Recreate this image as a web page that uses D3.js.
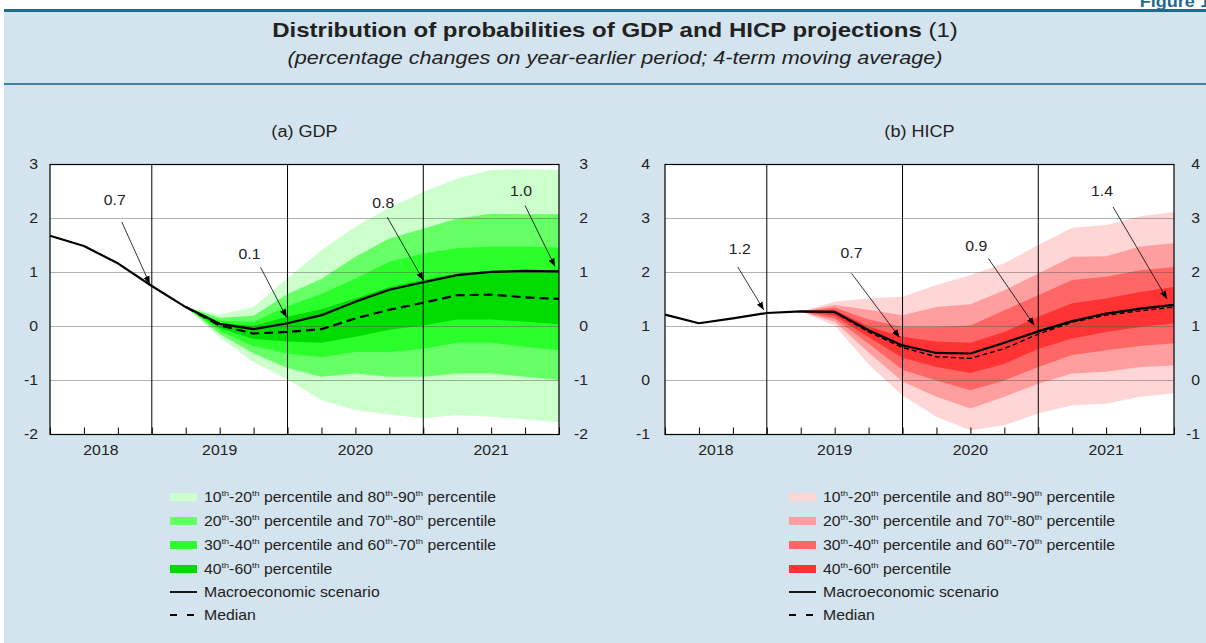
<!DOCTYPE html>
<html>
<head>
<meta charset="utf-8">
<script src="https://cdn.jsdelivr.net/npm/d3@7"></script>
<style>
body { margin: 0; background: #fff; }
svg { display: block; font-family: "Liberation Sans", Arial, sans-serif; }
</style>
</head>
<body>
<div id="chart-area"></div>
<script>
// quarters on the x axis, first to last
var quarters = ["2018Q1","2018Q2","2018Q3","2018Q4","2019Q1","2019Q2","2019Q3","2019Q4",
                "2020Q1","2020Q2","2020Q3","2020Q4","2021Q1","2021Q2","2021Q3","2021Q4"]
var years = ["2018","2019","2020","2021"]

// GDP
var gdpScenario = [1.68, 1.49, 1.17, 0.75, 0.36, 0.05, -0.05, 0.06, 0.21, 0.46, 0.68, 0.82, 0.95, 1.01, 1.03, 1.02]
var gdpMedian = [null, null, null, null, 0.36, 0.02, -0.13, -0.10, -0.05, 0.15, 0.31, 0.44, 0.58, 0.59, 0.54, 0.51]
var gdpP10 = [null, null, null, null, 0.36, -0.20, -0.66, -0.98, -1.36, -1.55, -1.63, -1.70, -1.64, -1.67, -1.72, -1.77]
var gdpP20 = [null, null, null, null, 0.36, -0.14, -0.50, -0.77, -0.93, -0.87, -0.93, -0.93, -0.87, -0.87, -0.93, -0.99]
var gdpP30 = [null, null, null, null, 0.36, -0.08, -0.36, -0.50, -0.57, -0.47, -0.47, -0.41, -0.30, -0.30, -0.38, -0.44]
var gdpP40 = [null, null, null, null, 0.36, -0.03, -0.23, -0.28, -0.30, -0.19, -0.06, 0.02, 0.13, 0.13, 0.09, 0.04]
var gdpP60 = [null, null, null, null, 0.36, 0.07, 0.01, 0.18, 0.32, 0.52, 0.73, 0.86, 0.98, 1.03, 1.04, 1.05]
var gdpP70 = [null, null, null, null, 0.36, 0.11, 0.09, 0.38, 0.60, 0.89, 1.20, 1.35, 1.45, 1.48, 1.48, 1.46]
var gdpP80 = [null, null, null, null, 0.36, 0.16, 0.20, 0.60, 0.88, 1.29, 1.63, 1.81, 2.00, 2.09, 2.08, 2.08]
var gdpP90 = [null, null, null, null, 0.36, 0.22, 0.36, 0.90, 1.41, 1.85, 2.20, 2.49, 2.74, 2.90, 2.91, 2.90]

// HICP
var hicpScenario = [1.22, 1.06, 1.15, 1.25, 1.28, 1.27, 0.93, 0.65, 0.51, 0.50, 0.70, 0.91, 1.10, 1.24, 1.33, 1.40]
var hicpMedian = [null, null, null, null, 1.28, 1.26, 0.90, 0.61, 0.44, 0.41, 0.59, 0.86, 1.08, 1.21, 1.29, 1.36]
var hicpP10 = [null, null, null, null, 1.28, 1.02, 0.30, -0.28, -0.67, -0.92, -0.83, -0.61, -0.46, -0.43, -0.30, -0.24]
var hicpP20 = [null, null, null, null, 1.28, 1.09, 0.52, -0.02, -0.30, -0.52, -0.30, -0.06, 0.13, 0.16, 0.25, 0.28]
var hicpP30 = [null, null, null, null, 1.28, 1.15, 0.68, 0.20, 0.00, -0.18, 0.00, 0.25, 0.47, 0.56, 0.64, 0.69]
var hicpP40 = [null, null, null, null, 1.28, 1.20, 0.80, 0.42, 0.25, 0.14, 0.31, 0.59, 0.78, 0.90, 0.99, 1.06]
var hicpP60 = [null, null, null, null, 1.28, 1.31, 1.00, 0.81, 0.72, 0.70, 0.90, 1.18, 1.43, 1.52, 1.64, 1.73]
var hicpP70 = [null, null, null, null, 1.28, 1.35, 1.13, 0.99, 0.99, 1.02, 1.30, 1.58, 1.86, 1.92, 2.04, 2.10]
var hicpP80 = [null, null, null, null, 1.28, 1.40, 1.31, 1.21, 1.36, 1.41, 1.67, 1.98, 2.29, 2.30, 2.48, 2.54]
var hicpP90 = [null, null, null, null, 1.28, 1.46, 1.52, 1.55, 1.77, 1.95, 2.17, 2.51, 2.83, 2.88, 3.04, 3.12]

// labelled points (quarter index + text)
var gdpNotes = [{i: 3, label: "0.7"}, {i: 7, label: "0.1"}, {i: 11, label: "0.8"}, {i: 15, label: "1.0"}]
var hicpNotes = [{i: 3, label: "1.2"}, {i: 7, label: "0.7"}, {i: 11, label: "0.9"}, {i: 15, label: "1.4"}]

var bandLabels = [
  [["10", "th"], ["-20", "th"], [" percentile and 80", "th"], ["-90", "th"], [" percentile", ""]],
  [["20", "th"], ["-30", "th"], [" percentile and 70", "th"], ["-80", "th"], [" percentile", ""]],
  [["30", "th"], ["-40", "th"], [" percentile and 60", "th"], ["-70", "th"], [" percentile", ""]],
  [["40", "th"], ["-60", "th"], [" percentile", ""]]
]

var width = 1206
var height = 643
var bg = "#d4e4ee"
var teal = "#1f6a8e"

var svg = d3.select("#chart-area").append("svg")
.attr("width", width)
.attr("height", height)

// background + header
svg.append("rect")
.attr("x", 4).attr("y", 9)
.attr("width", width - 4).attr("height", height - 9)
.attr("fill", bg)

svg.append("text")
.attr("x", 1210).attr("y", 7)
.attr("text-anchor", "end")
.attr("font-size", "16px")
.attr("font-weight", "bold")
.attr("fill", teal)
.text("Figure 1")

svg.append("line")
.attr("x1", 4).attr("x2", width)
.attr("y1", 10.5).attr("y2", 10.5)
.attr("stroke", teal).attr("stroke-width", 3)

svg.append("line")
.attr("x1", 4).attr("x2", width)
.attr("y1", 84).attr("y2", 84)
.attr("stroke", "#3f7fa0").attr("stroke-width", 2)

var title = svg.append("text")
.attr("class", "wide")
.attr("x", 615).attr("y", 37)
.attr("text-anchor", "middle")
.attr("font-size", "20px")
.attr("fill", "#222")
title.append("tspan").attr("font-weight", "bold").text("Distribution of probabilities of GDP and HICP projections")
title.append("tspan").text(" (1)")

svg.append("text")
.attr("class", "wide")
.attr("x", 615).attr("y", 64)
.attr("text-anchor", "middle")
.attr("font-size", "18px")
.attr("font-style", "italic")
.attr("fill", "#222")
.text("(percentage changes on year-earlier period; 4-term moving average)")

// arrow head
svg.append("defs").append("marker")
.attr("id", "arrow")
.attr("viewBox", "0 0 10 10")
.attr("refX", 10).attr("refY", 5)
.attr("markerWidth", 8).attr("markerHeight", 8)
.attr("markerUnits", "userSpaceOnUse")
.attr("orient", "auto")
.append("path")
.attr("d", "M0,1 L10,5 L0,9 Z")
.attr("fill", "#000")

var plotTop = 164.5
var plotBottom = 434.5
var plotW = 509

const drawPanel = (p) => {
  var x = d3.scalePoint().domain(quarters).range([p.left, p.left + plotW])
  var y = d3.scaleLinear().domain(p.yDomain).range([plotBottom, plotTop])

  var g = svg.append("g")

  g.append("text")
  .attr("x", p.left + plotW / 2).attr("y", 137)
  .attr("text-anchor", "middle")
  .attr("font-size", "16px")
  .attr("fill", "#222")
  .text(p.title)

  g.append("rect")
  .attr("x", p.left).attr("y", plotTop)
  .attr("width", plotW).attr("height", plotBottom - plotTop)
  .attr("fill", "#fff")

  // fan bands, outer first
  var pairs = [[p.p10, p.p90], [p.p20, p.p80], [p.p30, p.p70], [p.p40, p.p60]]
  pairs.forEach((pr, k) => {
    var rows = quarters.map((q, i) => ({q: q, lo: pr[0][i], hi: pr[1][i]}))
    var area = d3.area()
    .defined(d => d.lo != null)
    .x(d => x(d.q))
    .y0(d => y(d.lo))
    .y1(d => y(d.hi))
    g.append("path")
    .datum(rows)
    .attr("d", area)
    .attr("fill", p.colors[k])
  })

  // grid
  var yTicks = y.ticks(5)
  g.selectAll(".grid")
  .data(yTicks.slice(1, -1))
  .enter().append("line")
  .attr("x1", p.left).attr("x2", p.left + plotW)
  .attr("y1", d => y(d)).attr("y2", d => y(d))
  .attr("stroke", "#555")
  .attr("stroke-opacity", 0.45)
  .attr("stroke-width", 1)

  // year separators at Q4
  g.selectAll(".sep")
  .data(years.slice(0, -1))
  .enter().append("line")
  .attr("x1", d => x(d + "Q4")).attr("x2", d => x(d + "Q4"))
  .attr("y1", plotTop).attr("y2", plotBottom)
  .attr("stroke", "#000").attr("stroke-width", 1)

  // quarter ticks
  var xAxis = d3.axisBottom(x).tickSize(-7).tickFormat("")
  var xg = g.append("g")
  .attr("transform", "translate(0," + plotBottom + ")")
  .call(xAxis)
  xg.select(".domain").remove()
  xg.selectAll("line").attr("stroke", "#000")

  // year labels centred in each year span
  g.selectAll(".year")
  .data(years)
  .enter().append("text")
  .attr("x", (d, i) => {
    var a = i == 0 ? x(quarters[0]) : x(years[i - 1] + "Q4")
    return (a + x(d + "Q4")) / 2
  })
  .attr("y", 455)
  .attr("text-anchor", "middle")
  .attr("font-size", "14px")
  .attr("fill", "#222")
  .text(d => d)

  // y axes both sides
  var fmt = d => String(d)
  var yl = g.append("g")
  .attr("transform", "translate(" + (p.left - p.leftPad) + ",0)")
  .call(d3.axisLeft(y).ticks(5).tickSize(0).tickPadding(0).tickFormat(fmt))
  var yr = g.append("g")
  .attr("transform", "translate(" + (p.left + plotW + p.rightPad) + ",0)")
  .call(d3.axisRight(y).ticks(5).tickSize(0).tickPadding(0).tickFormat(fmt))
  ;[yl, yr].forEach(a => {
    a.select(".domain").remove()
    a.selectAll("text")
    .attr("text-anchor", "end")
    .attr("x", 0)
    .attr("font-size", "14px")
    .attr("font-family", "Liberation Sans, Arial, sans-serif")
    .attr("fill", "#222")
  })

  // scenario + median
  var line = d3.line()
  .defined(d => d.v != null)
  .x(d => x(d.q))
  .y(d => y(d.v))

  g.append("path")
  .datum(quarters.map((q, i) => ({q: q, v: p.median[i]})))
  .attr("d", line)
  .attr("fill", "none")
  .attr("stroke", "#000")
  .attr("stroke-width", p.medianWidth)
  .attr("stroke-dasharray", p.dash)

  g.append("path")
  .datum(quarters.map((q, i) => ({q: q, v: p.scenario[i]})))
  .attr("d", line)
  .attr("fill", "none")
  .attr("stroke", "#000")
  .attr("stroke-width", 2.2)
  .attr("stroke-linejoin", "round")

  // frame
  g.append("rect")
  .attr("x", p.left).attr("y", plotTop)
  .attr("width", plotW).attr("height", plotBottom - plotTop)
  .attr("fill", "none")
  .attr("stroke", "#000").attr("stroke-width", 1.2)

  // annotations
  p.notes.forEach((n, k) => {
    var off = p.noteLayout[k]
    var px = x(quarters[n.i])
    var py = y(p.scenario[n.i])
    g.append("line")
    .attr("x1", px + off.sx).attr("y1", py + off.sy)
    .attr("x2", px + off.ex).attr("y2", py + off.ey)
    .attr("stroke", "#000").attr("stroke-width", 0.8)
    .attr("marker-end", "url(#arrow)")
    g.append("text")
    .attr("x", px + off.tx).attr("y", py + off.ty + 5)
    .attr("text-anchor", "middle")
    .attr("font-size", "14px")
    .attr("fill", "#222")
    .text(n.label)
  })

  // legend
  var lg = g.append("g")
  var rowY = [497, 521, 545, 569, 592, 615]
  bandLabels.forEach((parts, k) => {
    lg.append("rect")
    .attr("x", p.legendX).attr("y", rowY[k] - 4)
    .attr("width", 27).attr("height", 8)
    .attr("fill", p.colors[k])
    var t = lg.append("text")
    .attr("x", p.legendX + 34).attr("y", rowY[k] + 5)
    .attr("font-size", "14px")
    .attr("fill", "#222")
    var raised = false
    parts.forEach(s => {
      t.append("tspan").attr("dy", raised ? 6 : 0).text(s[0])
      raised = false
      if (s[1]) {
        t.append("tspan").attr("font-size", "8px").attr("dy", -6).text(s[1])
        raised = true
      }
    })
  })
  lg.append("line")
  .attr("x1", p.legendX).attr("x2", p.legendX + 27)
  .attr("y1", rowY[4]).attr("y2", rowY[4])
  .attr("stroke", "#000").attr("stroke-width", 1.8)
  lg.append("text")
  .attr("x", p.legendX + 34).attr("y", rowY[4] + 5)
  .attr("font-size", "14px").attr("fill", "#222")
  .text("Macroeconomic scenario")
  lg.append("line")
  .attr("x1", p.legendX).attr("x2", p.legendX + 27)
  .attr("y1", rowY[5]).attr("y2", rowY[5])
  .attr("stroke", "#000").attr("stroke-width", 2.2)
  .attr("stroke-dasharray", "7,10")
  lg.append("text")
  .attr("x", p.legendX + 34).attr("y", rowY[5] + 5)
  .attr("font-size", "14px").attr("fill", "#222")
  .text("Median")
}

drawPanel({
  title: "(a) GDP", left: 50, yDomain: [-2, 3], leftPad: 12, rightPad: 29,
  scenario: gdpScenario, median: gdpMedian,
  p10: gdpP10, p20: gdpP20, p30: gdpP30, p40: gdpP40,
  p60: gdpP60, p70: gdpP70, p80: gdpP80, p90: gdpP90,
  colors: ["#ccffcc", "#66ff66", "#2bff2b", "#00dc00"],
  dash: "9,5", medianWidth: 2.2,
  notes: gdpNotes,
  noteLayout: [
    {tx: -37, ty: -86, sx: -30, sy: -64, ex: -2, ey: -2},
    {tx: -38, ty: -69, sx: -27, sy: -56, ex: -1, ey: -6},
    {tx: -40, ty: -79, sx: -36, sy: -65, ex: 0, ey: -2},
    {tx: -38, ty: -80, sx: -34, sy: -66, ex: -4, ey: -5}
  ],
  legendX: 170
})

drawPanel({
  title: "(b) HICP", left: 665, yDomain: [-1, 4], leftPad: 15, rightPad: 26,
  scenario: hicpScenario, median: hicpMedian,
  p10: hicpP10, p20: hicpP20, p30: hicpP30, p40: hicpP40,
  p60: hicpP60, p70: hicpP70, p80: hicpP80, p90: hicpP90,
  colors: ["#ffd6d6", "#ff9e9e", "#ff6666", "#ff3333"],
  dash: "5,3", medianWidth: 1.4,
  notes: hicpNotes,
  noteLayout: [
    {tx: -27, ty: -64, sx: -29, sy: -46, ex: -3, ey: -3},
    {tx: -51, ty: -92, sx: -51, sy: -72, ex: -3, ey: -8},
    {tx: -62, ty: -85, sx: -50, sy: -73, ex: -4, ey: -6},
    {tx: -72, ty: -114, sx: -61, sy: -98, ex: -7, ey: -6}
  ],
  legendX: 789
})

// the source typeface is a bit wider than Liberation Sans: stretch text horizontally
svg.selectAll("text").each(function() {
  var t = d3.select(this)
  var sx = t.classed("wide") ? 1.2 : 1.13
  var tx = +t.attr("x") || 0
  var ty = +t.attr("y") || 0
  t.attr("x", 0).attr("y", 0)
  .attr("transform", "translate(" + tx + "," + ty + ") scale(" + sx + ",1)")
})
</script>
</body>
</html>
